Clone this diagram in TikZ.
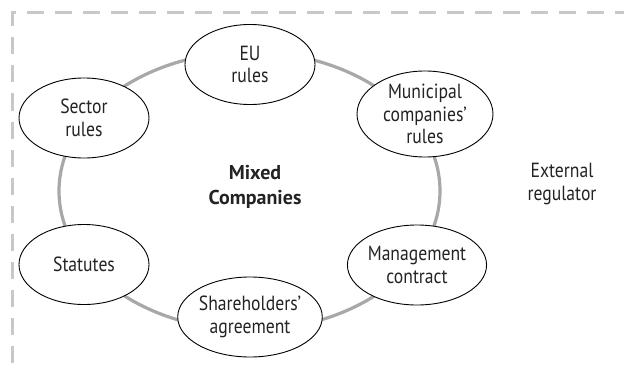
\documentclass[tikz,border=0pt]{standalone}
\usepackage{fontspec}
\setmainfont{PT Sans}[FakeStretch=0.86]
\newfontfamily\mixedfont{PT Sans}
\usepackage{xcolor}
\usetikzlibrary{shapes,positioning,calc}

\definecolor{framegray}{RGB}{200,200,200}
\definecolor{ringgray}{RGB}{168,168,168}
\definecolor{textdark}{RGB}{35,35,35}

\tikzset{
  rulebox/.style={ellipse,draw=black,line width=0.9pt,fill=white,text=textdark,
    align=center,inner sep=0pt,minimum width=130pt,minimum height=80pt,
    font=\fontsize{20.5}{22.5}\selectfont},
  plaintext/.style={align=center,text=textdark,font=\fontsize{20.5}{22.5}\selectfont}
}

\begin{document}
\begin{tikzpicture}[x=1pt,y=-1pt]
\useasboundingbox (0,0) rectangle (624,369);
% Frame
\draw[framegray,line width=3pt,dash pattern=on 17pt off 11pt] (660,13) -- (12.5,13) -- (12.5,370) -- (660,370);
% Circle
\draw[ringgray,line width=3.2pt] (249.5,191) ellipse [x radius=190.5,y radius=139];
% Ellipses
\node[rulebox] (eu) at (250,64.5) {EU\\rules};
\node[rulebox] (sector) at (84,118) {Sector\\rules};
\node[rulebox,minimum width=136pt,minimum height=86pt] (municipal) at (425,114) {Municipal\\companies'\\rules};
\node[rulebox] (statutes) at (84,264.5) {Statutes};
\node[rulebox] (management) at (417,265) {Management\\contract};
\node[rulebox] (shareholders) at (250,317) {Shareholders'\\agreement};
% Labels
\node[plaintext,font=\mixedfont\fontsize{20}{25}\selectfont\bfseries] (mixed) at (255,187) {Mixed\\Companies};
\node[plaintext] (regulator) at (562,184) {External\\regulator};
\end{tikzpicture}
\end{document}
